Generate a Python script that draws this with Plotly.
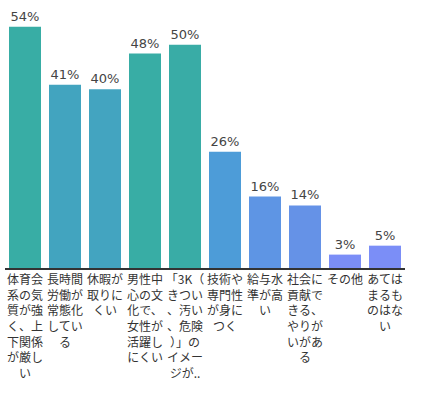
import plotly.graph_objects as go

categories = [
    "体育会<br>系の気<br>質が強<br>く、上<br>下関係<br>が厳し<br>い",
    "長時間<br>労働が<br>常態化<br>してい<br>る",
    "休暇が<br>取りに<br>くい",
    "男性中<br>心の文<br>化で、<br>女性が<br>活躍し<br>にくい",
    "「3K（<br>きつい<br>、汚い<br>、危険<br>）」の<br>イメー<br>ジが..",
    "技術や<br>専門性<br>が身に<br>つく",
    "給与水<br>準が高<br>い",
    "社会に<br>貢献で<br>きる、<br>やりが<br>いがあ<br>る",
    "その他",
    "あては<br>まるも<br>のはな<br>い",
]
values = [54, 41, 40, 48, 50, 26, 16, 14, 3, 5]
bar_colors = ["#38ADA5", "#42A4BF", "#43A4C0", "#38ADA5", "#39ACA6",
              "#4D9CD8", "#5E95E4", "#6592E7", "#7B8EF7", "#7B8EF7"]

fig = go.Figure(go.Bar(
    x=list(range(len(categories))),
    y=values,
    marker=dict(color=bar_colors, line=dict(width=0)),
    text=[f"{v}%" for v in values],
    textposition="outside",
    textfont=dict(size=13, color="#444444", family="DejaVu Sans"),
    cliponaxis=False,
    hoverinfo="skip",
))

fig.update_layout(
    width=424, height=395,
    margin=dict(l=5, r=19, t=0, b=127),
    paper_bgcolor="white", plot_bgcolor="white",
    bargap=0.2,
    showlegend=False,
    font=dict(family="Noto Sans CJK JP", color="#333333"),
)
fig.update_xaxes(
    tickmode="array",
    tickvals=list(range(len(categories))),
    ticktext=categories,
    tickangle=0,
    tickfont=dict(size=12, family="Noto Sans CJK JP", color="#333333"),
    showline=True, linecolor="#333333", linewidth=1.5,
    showgrid=False, ticks="", ticklen=0,
    automargin=False,
    range=[-0.5, len(categories) - 0.5],
)
fig.update_yaxes(visible=False, range=[0, 60], showgrid=False, automargin=False)

fig.write_html("out.html", config={"displayModeBar": False},
               post_script="document.body.style.margin='0';")
